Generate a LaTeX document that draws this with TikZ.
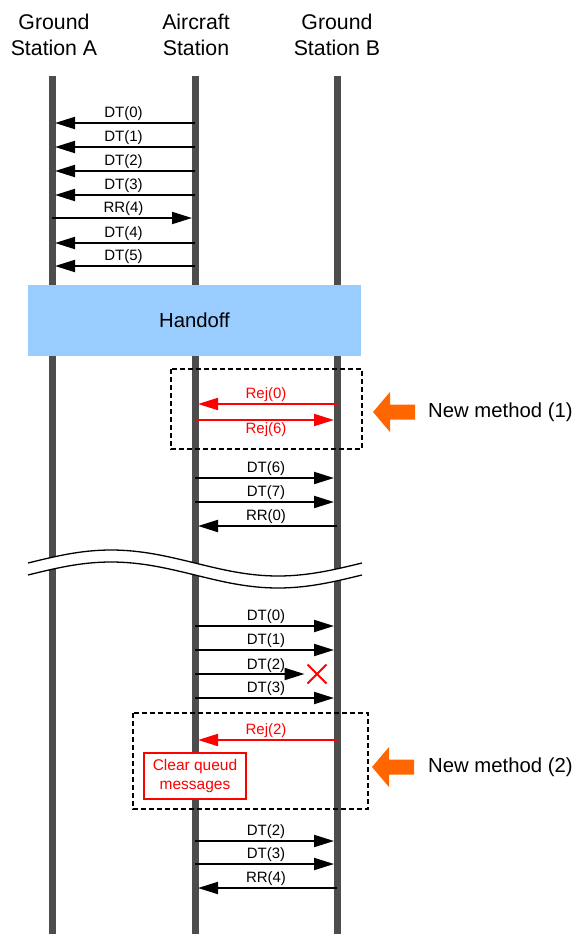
\documentclass[tikz,border=0pt]{standalone}
\usepackage{fontspec}
\setmainfont{Liberation Sans}
\usetikzlibrary{arrows.meta,shapes.misc}

\definecolor{lifegray}{HTML}{4D4D4D}
\definecolor{handoffblue}{HTML}{99CCFF}
\definecolor{methodorange}{HTML}{FF6600}

\tikzset{
  lifeline/.style={line width=7pt, draw=lifegray},
  msg/.style={line width=2pt, -{Triangle[length=20pt,width=12pt]}, shorten >=3pt},
  rejmsg/.style={msg, red},
  lbl/.style={font=\fontsize{15}{18}\selectfont, inner sep=1.5pt},
  head/.style={font=\fontsize{21.3}{26}\selectfont, align=center},
  methodbox/.style={line width=2pt, dash pattern=on 5pt off 3pt},
  methodtext/.style={font=\fontsize{20.3}{24}\selectfont, anchor=west, inner sep=0pt},
  newarrow/.pic={\fill[methodorange] (0,0) -- (17,-20) -- (17,-7.5) -- (42,-7.5)
    -- (42,7.5) -- (17,7.5) -- (17,20) -- cycle;}
}

\begin{document}
\begin{tikzpicture}[x=1pt, y=-1pt]
  \useasboundingbox (0,0) rectangle (576,934);

  % stations
  \node[head] (head-A) at (54,35) {Ground\\Station A};
  \node[head] (head-C) at (196,35) {Aircraft\\Station};
  \node[head] (head-B) at (337,35) {Ground\\Station B};

  \coordinate (A) at (52,76);
  \coordinate (C) at (195,76);
  \coordinate (B) at (337,76);
  \draw[lifeline] (A) -- (A |- 0,934);
  \draw[lifeline] (C) -- (C |- 0,934);
  \draw[lifeline] (B) -- (B |- 0,934);

  % before handoff
  \draw[msg] (C |- 0,123) -- (A |- 0,123) node[lbl, midway, above] (dt-0) {DT(0)};
  \draw[msg] (C |- 0,147) -- (A |- 0,147) node[lbl, midway, above] (dt-1) {DT(1)};
  \draw[msg] (C |- 0,171) -- (A |- 0,171) node[lbl, midway, above] (dt-2) {DT(2)};
  \draw[msg] (C |- 0,195) -- (A |- 0,195) node[lbl, midway, above] (dt-3) {DT(3)};
  \draw[msg] (A |- 0,218) -- (C |- 0,218) node[lbl, midway, above] (rr-4) {RR(4)};
  \draw[msg] (C |- 0,243) -- (A |- 0,243) node[lbl, midway, above] (dt-4) {DT(4)};
  \draw[msg] (C |- 0,266) -- (A |- 0,266) node[lbl, midway, above] (dt-5) {DT(5)};

  \node[fill=handoffblue, minimum width=333pt, minimum height=71pt,
        font=\fontsize{20.3}{24}\selectfont] (handoff) at (194.5,320.5) {Handoff};

  % new method (1)
  \draw[methodbox] (171,369) rectangle (362,449);
  \draw[rejmsg] (B |- 0,404) -- (C |- 0,404) node[lbl, midway, above] (rej-0) {Rej(0)};
  \draw[rejmsg] (C |- 0,420) -- (B |- 0,420) node[lbl, midway, below] (rej-6) {Rej(6)};
  \pic at (373,412) {newarrow};
  \node[methodtext] (method-1) at (428,412) {New method (1)};

  \draw[msg] (C |- 0,478) -- (B |- 0,478) node[lbl, midway, above] (dt-6) {DT(6)};
  \draw[msg] (C |- 0,502) -- (B |- 0,502) node[lbl, midway, above] (dt-7) {DT(7)};
  \draw[msg] (B |- 0,526) -- (C |- 0,526) node[lbl, midway, above] (rr-0) {RR(0)};

  % time break
  \fill[white] (28,563) sin (111,550) cos (195,563) sin (278,576) cos (362,563)
    -- (362,575) sin (278,588) cos (195,575) sin (111,562) cos (28,575) -- cycle;
  \draw[line width=1.3pt] (28,563) sin (111,550) cos (195,563) sin (278,576) cos (362,563);
  \draw[line width=1.3pt] (28,575) sin (111,562) cos (195,575) sin (278,588) cos (362,575);

  % after the break
  \draw[msg] (C |- 0,626) -- (B |- 0,626) node[lbl, midway, above] (dt-0b) {DT(0)};
  \draw[msg] (C |- 0,650) -- (B |- 0,650) node[lbl, midway, above] (dt-1b) {DT(1)};
  \node[cross out, draw=red, line width=2pt, minimum size=17pt, inner sep=0pt] (lost) at (317,674) {};
  \draw[msg] (C |- lost) -- (lost.west);
  \node[lbl, above] (dt-2b) at (266,674) {DT(2)};
  \draw[msg] (C |- 0,698) -- (B |- 0,698) node[lbl, midway, above] (dt-3b) {DT(3)};

  % new method (2)
  \draw[methodbox] (133,713) rectangle (368,809);
  \draw[rejmsg] (B |- 0,740) -- (C |- 0,740) node[lbl, midway, above] (rej-2) {Rej(2)};
  \node[draw=red, line width=2pt, fill=white, text=red, align=center,
        minimum width=102pt, minimum height=46pt, inner sep=1pt,
        font=\fontsize{15.5}{19}\selectfont] (clear) at (195,776) {Clear queud\\messages};
  \pic at (372,767) {newarrow};
  \node[methodtext] (method-2) at (428,767) {New method (2)};

  \draw[msg] (C |- 0,841) -- (B |- 0,841) node[lbl, midway, above] (dt-2c) {DT(2)};
  \draw[msg] (C |- 0,864) -- (B |- 0,864) node[lbl, midway, above] (dt-3c) {DT(3)};
  \draw[msg] (B |- 0,888) -- (C |- 0,888) node[lbl, midway, above] (rr-4c) {RR(4)};
\end{tikzpicture}
\end{document}
